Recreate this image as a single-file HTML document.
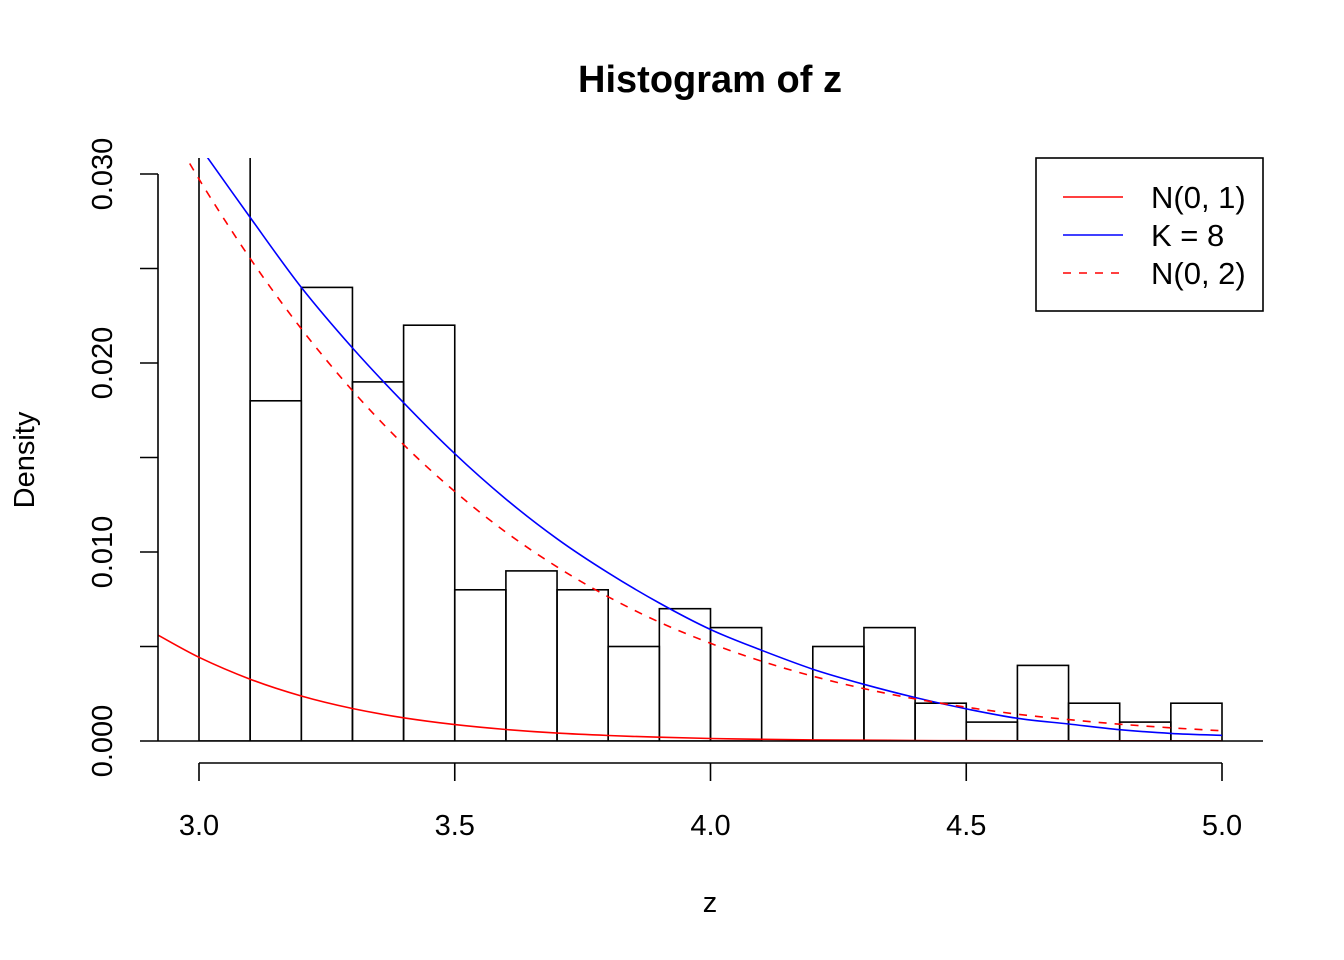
<!DOCTYPE html>
<html><head><meta charset="utf-8"><style>
html,body{margin:0;padding:0;background:#fff;}
svg{display:block;font-family:"Liberation Sans",Arial,sans-serif;}
</style></head><body>
<svg id="c" width="1344" height="960" xmlns="http://www.w3.org/2000/svg">
<defs><clipPath id="plot"><rect x="158" y="158" width="1105" height="583"/></clipPath></defs>
<text x="710" y="92" text-anchor="middle" style="font-size:38px;font-weight:bold">Histogram of z</text>
<text x="710" y="912" text-anchor="middle" style="font-size:29px">z</text>
<text transform="translate(34,460) rotate(-90)" text-anchor="middle" style="font-size:29px">Density</text>
<g id="bars" clip-path="url(#plot)"></g>
<g id="curves" clip-path="url(#plot)"></g>
<g id="axes"></g>
<g>
<rect x="1036" y="158" width="227" height="153" fill="#fff" stroke="#000" stroke-width="1.6"/>
<line x1="1063" y1="197" x2="1123" y2="197" stroke="#f00" stroke-width="1.6"/>
<text x="1151" y="208" style="font-size:31px">N(0, 1)</text>
<line x1="1063" y1="235" x2="1123" y2="235" stroke="#00f" stroke-width="1.6"/>
<text x="1151" y="246" style="font-size:31px">K = 8</text>
<line x1="1063" y1="273" x2="1123" y2="273" stroke="#f00" stroke-width="1.6" stroke-dasharray="8,8"/>
<text x="1151" y="284" style="font-size:31px">N(0, 2)</text>
</g>
</svg>
<script>
const binStarts=[3.0,3.1,3.2,3.3,3.4,3.5,3.6,3.7,3.8,3.9,4.0,4.1,4.2,4.3,4.4,4.5,4.6,4.7,4.8,4.9];
const binDensity=[0.5,0.018,0.024,0.019,0.022,0.008,0.009,0.008,0.005,0.007,0.006,0,0.005,0.006,0.002,0.001,0.004,0.002,0.001,0.002];
const curveX=[2.92,3.0,3.1,3.2,3.3,3.4,3.5,3.6,3.7,3.8,3.9,4.0,4.1,4.2,4.3,4.4,4.5,4.6,4.7,4.8,4.9,5.0];
const n01Vals=[0.0056,0.00443,0.00327,0.00238,0.00172,0.00123,0.00087,0.00061,0.00042,0.00029,0.0002,0.000134,0.00009,0.00006,0.00004,0.000025,0.000016,0.00001,0.000006,0.000004,0.0000025,0.0000015];
const k8Vals=[0.0345,0.0315,0.0277,0.0240,0.0208,0.0179,0.0152,0.0128,0.0107,0.0089,0.0073,0.0059,0.0048,0.0038,0.0030,0.0023,0.0017,0.0012,0.0009,0.0006,0.0004,0.0003];
const n02Vals=[0.0335,0.02973,0.02553,0.02181,0.01854,0.01568,0.01320,0.01105,0.00921,0.00763,0.00629,0.00517,0.00422,0.00343,0.00277,0.00223,0.00179,0.00142,0.00113,0.00089,0.00070,0.00054];
const xTicks=[3.0,3.5,4.0,4.5,5.0];
const xTickLabels=["3.0","3.5","4.0","4.5","5.0"];
const yTicks=[0,0.005,0.01,0.015,0.02,0.025,0.03];
const yTickLabels=["0.000","","0.010","","0.020","","0.030"];
const binWidth=0.1;

const NS="http://www.w3.org/2000/svg";
const X=v=>199+(v-3)*511.5;
const Y=v=>741-v*18900;
function mk(tag,attrs,parent){const e=document.createElementNS(NS,tag);for(const k in attrs)e.setAttribute(k,attrs[k]);parent.appendChild(e);return e;}

const bars=document.getElementById('bars');
binStarts.forEach((s,i)=>{
  const x0=X(s),x1=X(s+binWidth),y=Y(binDensity[i]);
  const r=mk('rect',{x:x0,y:y,width:x1-x0,height:741-y,fill:'none',stroke:'#000','stroke-width':1.6},bars);
  
  
});
const curves=document.getElementById('curves');
function line(vals,color,dash,name){
  const pts=curveX.map((x,i)=>[X(x),Y(vals[i])]);
  let d='M'+pts[0][0].toFixed(1)+','+pts[0][1].toFixed(1);
  for(let i=0;i<pts.length-1;i++){
    const p0=pts[Math.max(0,i-1)],p1=pts[i],p2=pts[i+1],p3=pts[Math.min(pts.length-1,i+2)];
    const c1x=p1[0]+(p2[0]-p0[0])/6,c1y=p1[1]+(p2[1]-p0[1])/6;
    const c2x=p2[0]-(p3[0]-p1[0])/6,c2y=p2[1]-(p3[1]-p1[1])/6;
    d+=' C'+c1x.toFixed(1)+','+c1y.toFixed(1)+' '+c2x.toFixed(1)+','+c2y.toFixed(1)+' '+p2[0].toFixed(1)+','+p2[1].toFixed(1);
  }
  const p=mk('path',{d:d,fill:'none',stroke:color,'stroke-width':1.6},curves);
  if(dash)p.setAttribute('stroke-dasharray',dash);
  
  
}
line(n01Vals,'#f00',null,'curve-n01');
line(k8Vals,'#00f',null,'curve-k8');
line(n02Vals,'#f00','8,8','curve-n02');

const axes=document.getElementById('axes');
const base=mk('line',{x1:158,y1:741,x2:1263,y2:741,stroke:'#000','stroke-width':1.6},axes);


mk('line',{x1:X(xTicks[0]),y1:763,x2:X(xTicks[xTicks.length-1]),y2:763,stroke:'#000','stroke-width':1.6},axes);
xTicks.forEach((t,i)=>{
  mk('line',{x1:X(t),y1:763,x2:X(t),y2:781,stroke:'#000','stroke-width':1.6},axes);
  const tx=mk('text',{x:X(t),y:835,'text-anchor':'middle',style:'font-size:29px'},axes);
  tx.textContent=xTickLabels[i];
  
  
});
mk('line',{x1:158,y1:Y(yTicks[0]),x2:158,y2:Y(yTicks[yTicks.length-1]),stroke:'#000','stroke-width':1.6},axes);
yTicks.forEach((t,i)=>{
  mk('line',{x1:140,y1:Y(t),x2:158,y2:Y(t),stroke:'#000','stroke-width':1.6},axes);
  if(yTickLabels[i]){
    const tx=mk('text',{transform:'translate(112,'+Y(t)+') rotate(-90)','text-anchor':'middle',style:'font-size:29px'},axes);
    tx.textContent=yTickLabels[i];
    
    
  }
});
</script>
</body></html>
